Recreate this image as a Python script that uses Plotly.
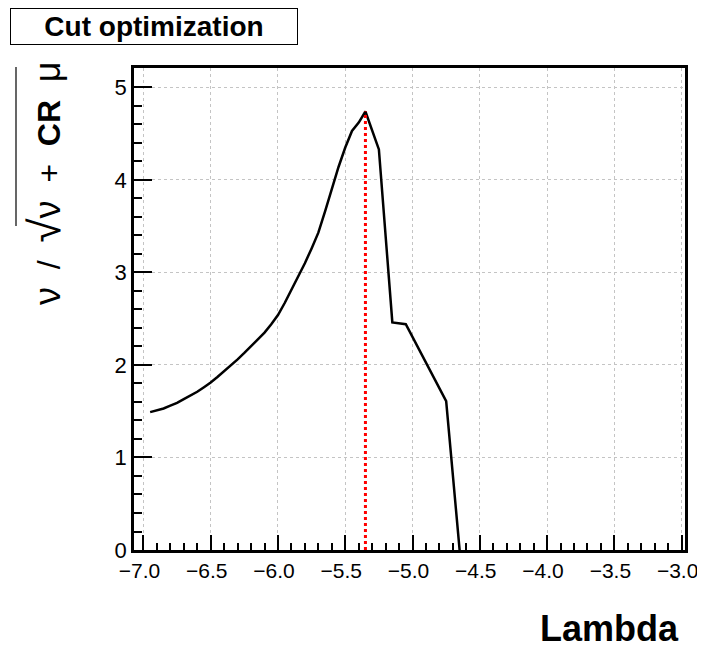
import plotly.graph_objects as go

# Data
lambda_cut = [-6.95, -6.90, -6.85, -6.80, -6.75, -6.70, -6.65, -6.60, -6.55, -6.50,
              -6.45, -6.40, -6.35, -6.30, -6.25, -6.20, -6.15, -6.10, -6.05, -6.00,
              -5.95, -5.90, -5.85, -5.80, -5.75, -5.70, -5.65, -5.60, -5.55, -5.50,
              -5.45, -5.40, -5.35, -5.25, -5.15, -5.05, -4.95, -4.85, -4.75, -4.65]
significance = [1.49, 1.51, 1.53, 1.56, 1.59, 1.63, 1.67, 1.71, 1.76, 1.81,
                1.87, 1.93, 1.99, 2.06, 2.13, 2.20, 2.27, 2.35, 2.44, 2.54,
                2.67, 2.81, 2.95, 3.10, 3.26, 3.43, 3.66, 3.91, 4.14, 4.35,
                4.53, 4.62, 4.74, 4.33, 2.46, 2.44, 2.16, 1.88, 1.61, 0.0]

x_ticks = [-7.0, -6.5, -6.0, -5.5, -5.0, -4.5, -4.0, -3.5, -3.0]
y_ticks = [0, 1, 2, 3, 4, 5]

imax = max(range(len(significance)), key=lambda i: significance[i])
best_x = lambda_cut[imax]
best_y = significance[imax]

FONT = "Liberation Sans, Arial, Helvetica, sans-serif"

fig = go.Figure()
fig.add_trace(go.Scatter(x=lambda_cut, y=significance, mode="lines",
                         line=dict(color="black", width=2.5), showlegend=False,
                         hoverinfo="skip"))
fig.add_trace(go.Scatter(x=[best_x, best_x], y=[0, best_y], mode="lines",
                         line=dict(color="red", width=3, dash="dot"), showlegend=False,
                         hoverinfo="skip"))

axis_common = dict(
    showline=True, linecolor="black", linewidth=2.5, mirror=True,
    ticks="inside", tickcolor="black", tickwidth=2,
    showgrid=True, gridcolor="#c4c4c4", griddash="dot", gridwidth=1,
    zeroline=False, automargin=False,
)

fig.update_xaxes(range=[-7.07, -2.975], tickvals=x_ticks,
                 ticktext=[f"{v:.1f}".replace("-", "\u2212") for v in x_ticks],
                 ticklen=15, ticklabelshift=-4,
                 tickfont=dict(family=FONT, size=21, color="black"),
                 minor=dict(ticks="inside", ticklen=7, dtick=0.1, tick0=-7.0,
                            tickcolor="black", tickwidth=2, showgrid=False),
                 **axis_common)
fig.update_yaxes(range=[0, 5.21], tickvals=y_ticks, ticklen=18,
                 tickfont=dict(family=FONT, size=22, color="black"),
                 minor=dict(ticks="inside", ticklen=8, dtick=0.2, tick0=0,
                            tickcolor="black", tickwidth=2, showgrid=False),
                 **axis_common)

# page offset of the figure (browser body margin) is compensated below
PAD = 8
L, T, W, H = 134 - PAD, 68 - PAD, 551, 482

def px(xpix):
    return (xpix - 134) / W

def py(ypix):
    return (550 - ypix) / H

fig.add_annotation(text="<b>Cut optimization</b>", xref="paper", yref="paper",
                   x=px(10), y=py(8),
                   xanchor="left", yanchor="top", showarrow=False,
                   width=286, height=35, bordercolor="black", borderwidth=1,
                   borderpad=0, bgcolor="white",
                   font=dict(family=FONT, size=28, color="black"))

fig.add_annotation(text="<b>Lambda</b>", xref="paper", yref="paper",
                   x=px(681), y=py(651),
                   xanchor="right", yanchor="bottom", showarrow=False,
                   font=dict(family=FONT, size=36, color="black"))

ytitle = ('<span style="font-size:36px">ν</span>  /  '
          '<span style="font-size:44px">√</span>'
          '<span style="font-size:36px">ν</span>  +  <b>CR</b>  '
          '<span style="font-size:36px">μ</span>')
fig.add_annotation(text=ytitle, xref="paper", yref="paper",
                   x=px(44), y=py(183),
                   xanchor="center", yanchor="middle", textangle=-90,
                   showarrow=False,
                   font=dict(family=FONT, size=32, color="black"))

# vinculum of the square root in the y-axis title
fig.add_shape(type="line", xref="paper", yref="paper",
              x0=px(16), x1=px(16), y0=py(226), y1=py(67),
              line=dict(color="black", width=1.2))

fig.update_layout(
    width=705 - PAD, height=652 - PAD,
    margin=dict(l=L, r=20, t=T, b=652 - PAD - T - H),
    paper_bgcolor="white", plot_bgcolor="white",
    font=dict(family=FONT, color="black"),
)

fig.write_html("out.html")
